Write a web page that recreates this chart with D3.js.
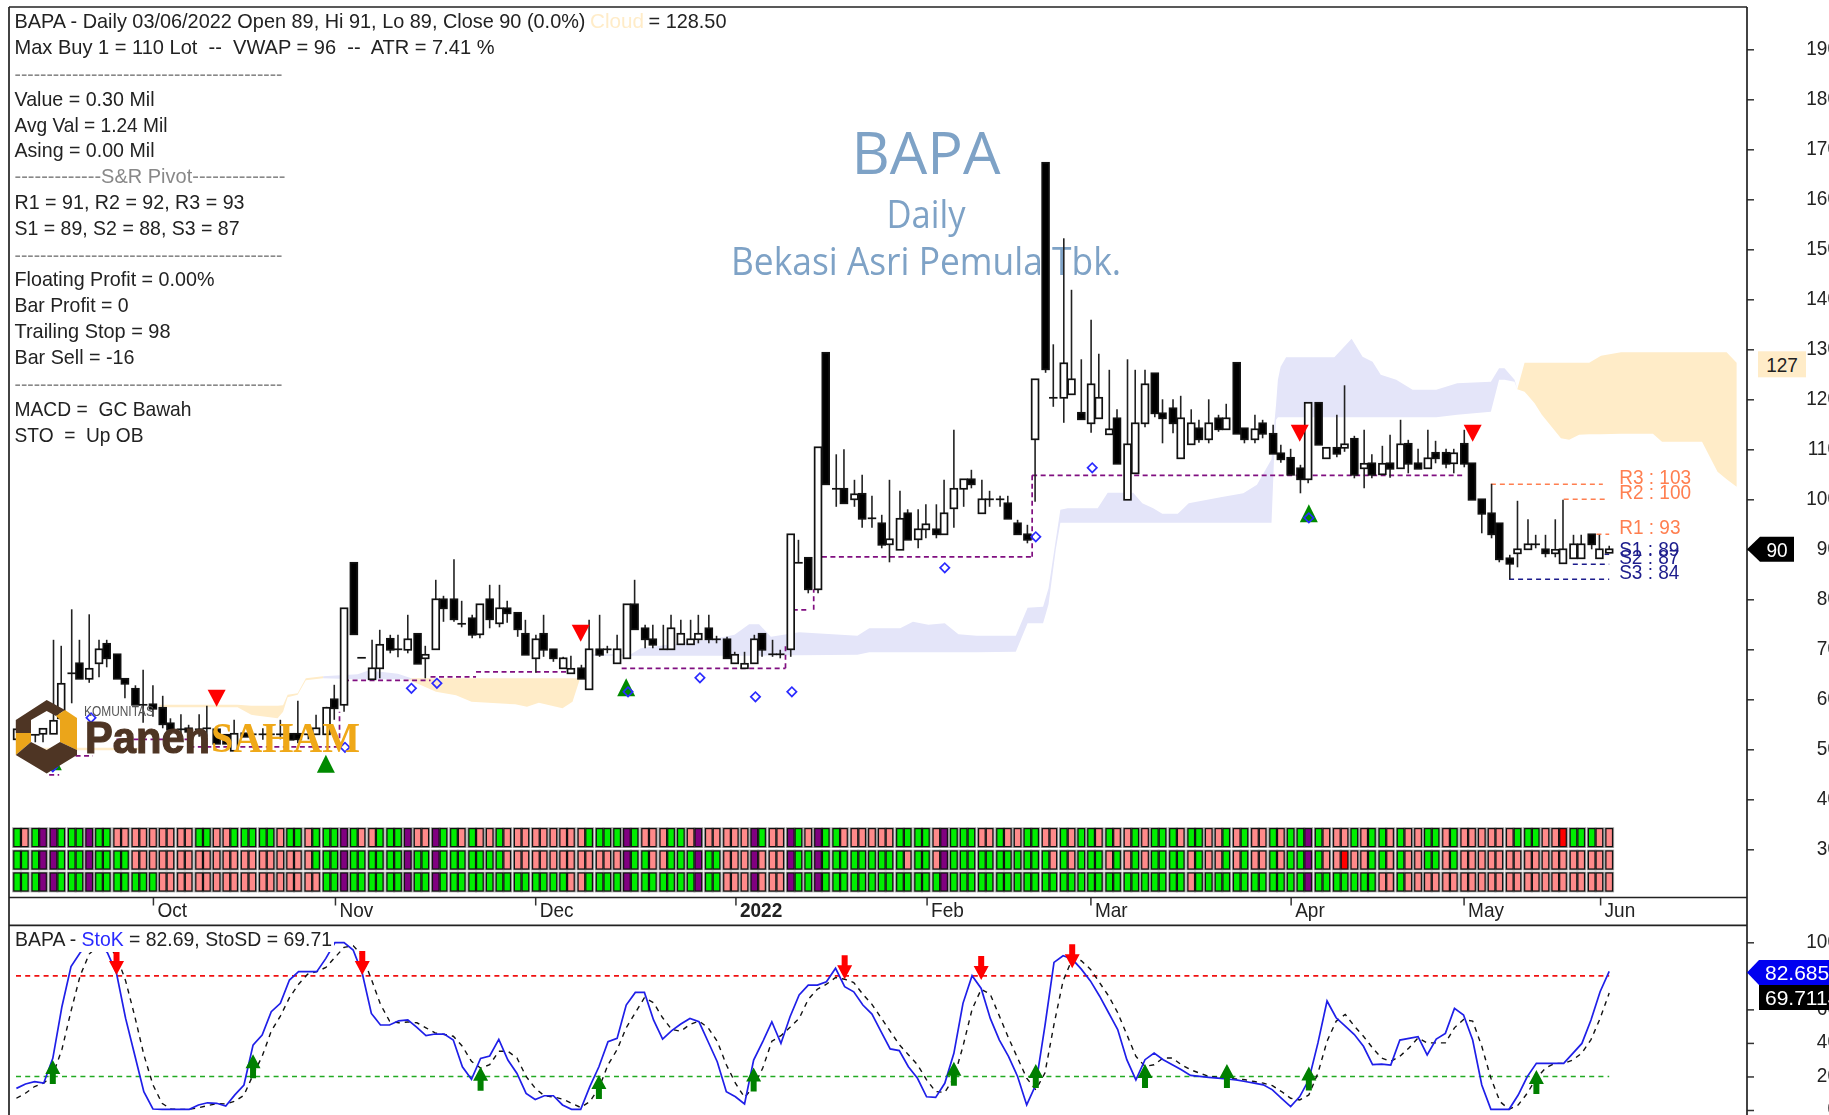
<!DOCTYPE html>
<html>
<head>
<meta charset="utf-8">
<title>BAPA - Daily</title>
<script src="https://cdn.jsdelivr.net/npm/d3@7"></script>
<style>
    html, body { margin: 0; padding: 0; background: #fff; overflow: hidden; }
    svg { display: block; filter: blur(0.35px); }
    text { font-family: "Liberation Sans", Arial, sans-serif; white-space: pre; }
</style>
</head>
<body>
<div id="chart"></div>
<script>
/*-------------------- Data -------------------*/

var barOpen = [52,53.5,52.9,53.1,53.1,56.2,65.2,67.2,64.1,67.2,71.1,69,64.1,62.1,58.9,59,58.3,55.2,54,54.2,54,54.2,54,52.9,49.7,53.2,53,53,53,53,53.1,53.1,53,53,53,60,58.9,87.3,68.3,64,66.2,72.1,70,69.9,
    73.1,68.2,70,80,80,75.1,76.2,73,80,75.2,78.2,77.3,73.1,68.2,73.1,70,66.2,65.2,66.2,62,70,70,67.2,68.2,79,74.2,72,70,70,71,71,72,74.2,72,72,67.2,66.2,67.2,73.1,69,69,70,87.3,88.3,
    82,129.3,102.1,102.1,100,101.1,96.2,95.2,91,89.9,97.2,92,94,94,93,98.2,102.1,104,97.2,100,100,99.2,95.2,93,112,167.3,120.3,120.3,121,117.3,115.2,116.2,113,116.2,99.9,105.2,115.2,125.2,117.2,118.2,108.2,111,114.2,112,
    116.2,114,127.3,114.2,112,115.2,113.1,109.2,108.3,106.2,104,119.3,108.2,110.3,110.3,112.1,106.2,107.2,105,107.2,106.2,111.1,107.2,106.2,109.3,109.3,107.2,111.1,107.2,100,97.2,95.2,88.2,89.2,90,91,90,89.2,87.2,88.2,88.2,93,88.2,89.3];
var barHigh = [54.1,54,52.9,54.1,71.9,70.7,78,71.9,77,71.9,71.9,69,64.1,62.8,65.9,62.8,60.7,56.2,57,54.9,57,58.7,54,52.9,55.9,53.2,53,54.2,53,55.9,53.1,59.7,53,56.9,58.5,62.9,78.2,87.3,68.3,71.9,73.9,72.9,72.9,76.9,
    73.1,70.7,83.9,80.7,88,79.7,76.9,79,82.9,82.9,79.7,77.3,75.9,72.9,76.9,70,68.5,68.7,66.9,75.9,76.9,70.7,72.9,79,83.9,74.9,74.9,74.9,76.9,75.9,75.9,76.9,76.9,72.7,72.5,69.5,69.5,72.9,73.1,71.9,69.9,93,91.9,88.3,
    110.4,129.3,109,110,103.9,104.9,100.7,96.9,103.9,101.7,98,98,99,99,103.9,113.9,104,105.9,103.9,101.7,100.7,100.7,95.9,94.9,124,167.3,131,152.2,141.9,128,135.9,129.1,125.9,118,128,125.9,125.9,125.2,120,120,120.7,118,115.9,120,
    116.9,119.1,127.3,114.2,116.9,115.9,114.9,110.9,110.1,106.9,119.3,119.3,110.3,116.9,122.8,112.7,113.9,109,110.7,112.9,115.9,111.9,110.1,113.9,111.7,110.1,110.1,113.9,107.2,100,103.1,95.2,88.9,99.7,96,92.9,92.9,96,99.9,92.9,92.9,93,92.9,90.7];
var barLow = [52,52,51.4,51.4,53.1,56.2,59.2,64.1,63.3,64.4,66.4,64.1,60.2,58.9,55.3,56.5,54.2,52.9,51.9,52.5,52.5,52.5,51.1,51.1,49.7,52.5,52.4,51.9,52.5,52,51.9,51.2,52,53,53,55.9,57.5,73,68.3,64,64.2,69.2,68.4,69.2,
    67.1,64.2,70,75.5,75.5,74.4,72.2,72.2,74.2,74.4,75.3,72.5,68.9,65.3,68.5,67.5,66.2,65.2,64.1,62,68.5,69.2,67.2,68.2,74,70.2,70.2,70,70,71,71,71.2,71.2,71.2,68.2,67.2,66.2,67.2,68.5,68.5,68.2,68.5,87.3,81.2,
    81.2,103,98.5,99.2,98.5,94.3,94.3,90.2,87.4,89.9,91.9,90.2,92.2,92.2,93,94.3,98.5,102.2,97.2,98.5,98.5,96.1,93,91.2,99.5,125.3,118.5,115.3,121,116,113.3,116.2,113,107.1,99.9,105.2,114.4,116.4,111.2,113.2,108.2,111,111.3,111.2,
    113.5,114,113.1,111.2,111.2,112.2,109.1,107.3,104.9,101.2,103.2,110.9,108.2,108.4,109.5,104.2,102.2,104.2,105,104.3,106.2,105.2,106.1,106.2,107.2,106.2,105.2,106.4,99.9,93.2,92.2,87.4,84,86.4,90,90.2,88.4,88.4,87.2,88.2,88.2,90,88.2,89.3];
var barClose = [54,52.5,52.9,54.1,55.7,63.1,65.2,64.1,66.1,70,68.2,64.1,63.1,58.9,58.9,58.1,55,53.9,54,53.5,54,54.2,51.1,51.1,53.1,52.5,53,53,53,53,51.9,52,53,54.2,58.3,58.2,78.2,73,68.3,66.2,70.9,69.9,70,72,
    67.1,68.9,80,78.2,76,75.1,72.9,79,76,78.2,77.2,74,68.9,72,69.9,68.2,68.2,66.1,64.1,70,68.9,70,70,79,74,72,70.9,70,74.2,73.1,72,73.1,72,72,68.2,68.9,67.1,72,69.9,69,69,93,87.3,82,
    110.4,103,102.1,99.2,101,96.1,96.2,90.9,92,96.1,91.9,94,95,93,97.2,102.1,104,103,100,100,100,96.1,93,91.9,124,126,120.3,127.2,124,116,123,120.3,114,107.1,111,115.2,123,117.2,116.2,115.2,116.2,115.2,112,115.2,
    114,116.2,113.1,112,114,113.1,109.1,108,104.9,104,119.3,110.9,110.3,109.1,111,104.9,107.1,104.9,107.1,106.1,111,107.1,106.1,108.2,108.2,107.1,109.2,107.1,99.9,97.1,93,88,87.1,90,91,91,89.2,89.9,90,91,91,91,90,90];

// StoK and StoSD, one value per bar
var stoK = [12.9,15.5,16.9,16,30.8,61.6,85.5,93.8,99.4,100,93.8,81.5,54.6,32.8,10.9,.6,.4,.4,.4,.4,3,4.3,4,2.4,9,14.9,38.7,44.7,58.6,63.6,77.5,82.5,82.5,82.5,90.4,99.8,99.8,95.4,81.5,57.6,50.7,50.7,53.2,53.7,
    49.3,44.3,45.3,45.3,41.7,25.8,18.3,30.8,32.2,42.1,29.8,21.8,9.9,6.3,8.5,8.5,3,.4,.4,13.9,25.8,40.7,42.7,62.6,70.1,70.1,53.7,42.3,47.3,51.3,54.6,52.6,40.7,28.8,10.9,7.9,3.6,29.8,40.7,52.6,39.7,55.6,68.6,74.5,
    74.5,76.5,84.5,73.5,70.5,62.6,57.2,46.7,36.4,35.4,25.8,18.9,7.9,7.5,15.9,33.8,63.6,80.1,72.5,54.6,41.7,32,20,3,15,50,88,92,90,84,77,68,58,48,30,18,30,34,30,27,24,20.6,20,19.5,
    19,18.5,18,17,16,15,12,7,2,8,18,40,65,55,50,45,38,27,27.4,26.8,41.7,42.7,43.7,32.8,42.3,45.7,60.6,56.6,41.7,14.9,.4,.4,.4,8.9,19.9,27.8,27.8,27.8,27.8,33.8,39.7,53.7,70.5,82.69];
var stoD = [7,10,14,16,21,36,59,80,93,98,98,92,77,56,33,15,4,.5,.4,.4,1.3,2.6,3.8,3.6,5.2,8.8,21,32,47,56,67,75,81,82.5,85,91,97,98,92,78,63,53,52,52.5,
    52,49,46,45,44,38,29,25,27,35,35,31,20,13,8.5,7.8,6.5,4,1.5,5,13,27,36,49,58,67,64,55,48,47,51,53,49,41,27,16,7.5,14,25,41,44.3,49.3,54.6,66,
    72,75,79,78,76,69,63,55,47,39,33,27,18,11,10.5,19,38,60,72,69,56,43,31,19,12,22,51,77,90,89,84,76,68,58,45,32,26,27,31,31,27,24,22,20,
    19.5,19,18.5,18,17,16,14.5,11,7,6,9,22,41,53,57,50,44,37,31,29,32,37,43,40,40,40,49,54,53,38,19,5,.4,3,10,19,25,27.8,27.8,29.8,34,42,54.6,69.71];

// colour strip rows: g green, p pink, v purple, r red
var stripRow1 = "gpgvvggg" + "v" + "ggpppp" + "p" + "ppppgg" + "p" + "pggggg" + "p" + "ggpggg" + "v" + "gppggg" + "v" + "ppvggpgp" + "p" + "gp" + "pppp" + "p" + "pppggg" + "g" + "vgpppg" + "g" + "pvpppp" + "p" + "vgppvg" + "p" + "vggppp" + "p" + "ppgggg" + "pv" + "g" + "gg" + "pp" + "gp" +
    "pggppgpggpgppgpgggpggppgpgppgpgg" + "vgpppgpg" + "gpgpp" + "ggpgpp" + "p" + "pppggg" + "p" + "prgggp" + "p";
var stripRow2 = "gggvvggg" + "v" + "ggggpp" + "p" + "pppppp" + "p" + "pppppp" + "p" + "pppggg" + "v" + "gggggg" + "v" + "ggvggggg" + "g" + "gp" + "pppp" + "p" + "pppppp" + "p" + "vggppg" + "g" + "gvggpp" + "p" + "vpppvg" + "g" + "vggggg" + "g" + "gggpgg" + "pv" + "g" + "gggggg" +
    "ggggpgpgggpgpgpggggpgppgpgppgpgg" + "vgpprppg" + "gpgpp" + "ggpgpp" + "p" + "pppppp" + "p" + "pppppp" + "p";
var stripRow3 = "gggvvggg" + "v" + "gggggg" + "g" + "pppppp" + "p" + "pppppp" + "p" + "ppppgg" + "v" + "gggggg" + "v" + "ggvggggg" + "g" + "gggggg" + "g" + "gppggg" + "g" + "vggggg" + "g" + "gvggpp" + "p" + "vpppvg" + "g" + "vggggg" + "g" + "gggggg" + "gv" + "g" + "gggggg" +
    "gggggggggggggggggggpgggggggggggg" + "vggggggg" + "ppgpp" + "pppppp" + "p" + "pppppp" + "p" + "pppppp" + "p";
var stripColors = {g: "#00ee00", p: "#ff8a8a", v: "#800080", r: "#ff0000"};
var singleCells = [8,15,22,29,36,43,52,59,66,73,80,87,94,103,110,117,124,131,140,147,154,161,168,175];

// Ichimoku cloud: [bar, top, bottom]
var cloudOrange = [
    [[2.7,50.3,49.8],[13.7,50.3,49.8]],
    [[15.7,58.9,58.4],[24.3,58.9,58.4],[25.8,58.7,56.9],[28.7,58.7,56.2],[29.3,58.8,57.5],[29.8,60.9,60.4],[30.9,61.2,60.9],[31.8,64.2,63.8],[33.7,64.6,64.2]],
    [[43,64.2,64],[46.1,64.2,61.5],[48.3,64.2,60.8],[50,64.2,59.5],[54.8,64.2,59],[56.1,64.2,58.5],[57.4,64.2,59.3],[60,64.2,58.2],[61.1,64.2,59.5],[61.9,64.2,64]],
    [[164.9,122,122],[165.7,127.3,121.5],[166,127.3,120.9],[166.8,127.3,119.2],[167.6,127.3,116.9],[169.7,127.3,112.2],[170.6,127.3,111.9],[171.7,127.3,112.9],[172.8,127.3,113],[174.1,128.7,113],[176.3,129.4,113.1],[179.8,129.4,113.1],[180.8,129.4,111.5],[185.2,129.4,111.5],[186.9,129.4,105.5],[187.9,129.4,104],[189,127.3,102.5]]
];
var cloudLavender = [
    [[33.7,64.6,64.2],[37.5,65,64],[38.6,65.7,64],[40,65.5,64],[41.9,65.1,64],[43.4,64.2,64]],
    [[63,69,68.7],[67.5,69,68.7],[68.6,70.2,68.7],[77,72.2,68.7],[78.9,72.9,68.7],[80.5,75,68.7],[81.6,75,68.7],[82.9,72.5,68.8],[86,73.4,68.8],[92.4,72.7,68.9],[93.7,74.2,69.4],[97.1,74.2,69.4],[98.5,75.5,69.4],[100.2,74.9,69.4],[102,75.2,69.4],[103.5,73,69.4],[105.5,72.7,69.4],[109.8,72.7,69.5],[111.1,78.3,75.2],[112.8,78.5,75.2],[113.4,82.2,79],[114.2,91.9,90],[114.7,97.9,95.3],[115.5,98.2,95.3],[118.8,98.2,95.3],[119.9,101.3,95.3],[122.7,101.3,95.3],[123.7,99.2,95.3],[124.9,98.2,95.3],[125.9,97.1,95.3],[127.6,97.1,95.3],[128.8,99.2,95.3],[132.3,100.4,95.3],[134.8,101.2,95.3],[136.3,102.9,95.3],[137.9,108,95.3],[138.2,115,109.2],[138.4,119,115.9],[138.6,123.9,116.4],[138.9,126.5,116.4],[139.5,128.4,116.4],[144.8,128.4,116.4],[146.7,132.1,116.4],[147.9,128.5,116.4],[149,127.5,116.4],[149.9,124.9,116.4],[151.6,123.9,116.4],[153.4,121.9,116.4],[156,121.9,116.4],[158.3,123.2,116.9],[162,123.5,117.5],[162.9,126.2,123.9],[163.5,126.2,123.9],[164.6,123.9,123.5],[164.9,122,122]]
];

// trailing stop: [from bar, to bar, price]
var stopSegments = [[3.6,4.7,44.9],[6.5,8.4,48.7],[11,19,52],[19,35.5,50.5],[36,45.5,63.8],[45.5,50.5,64.5],[50.5,61,65.5],[66.5,84.5,66.2],[85.3,87,77.9],[88.5,111.6,88.5],[111.6,159,104.8]];
var stopJumps = [[35.5,50.5,57.5],[84.5,66.2,71.3],[87.6,77.9,82],[111.6,88.5,104.8]];

var diamondBars = [4,8.2,36.1,43.4,46.2,67.2,75.1,81.2,85.2,102,112,118.2,142];
var diamondPrices = [46.5,56.3,50.4,62.2,63.2,61.5,64.3,60.5,61.5,86.3,92.5,106.3,96.3];
var buyBars = [4,34,67,142];
var buyPrices = [49.4,48.9,64.2,99];
var sellBars = [22,62,141,160];
var sellPrices = [58.5,71.5,111.5,111.5];

var pivotNames = ["R3","R2","R1","S1","S2","S3"];
var pivotValues = [103,100,93,89,87,84];
var pivotFrom = [162,170,173.6,174.5,171,164];
var pivotTo = [174.3,174.8,175,175,175,175];
var pivotLabelShift = [0,0,0,2,0,0];

var stoDownBars = [11,38,91,106,116];
var stoDownValues = [80.5,80.5,78,77.5,84.6];
var stoUpBars = [4,26,51,64,81,103,112,124,133,142,167];
var stoUpValues = [29.8,33.2,25.8,20.8,25.4,28.8,27.4,27.4,27.4,26,23.8];

var monthBars = [15,35,57,79,100,118,140,159,174];
var monthLabels = ["Oct","Nov","Dec","2022","Feb","Mar","Apr","May","Jun"];
var priceTicks = [30,40,50,60,70,80,90,100,110,120,130,140,150,160,170,180,190];
var stoTicks = [0,20,40,60,100];

var infoLines = [
    ["Max Buy 1 = 110 Lot  --  VWAP = 96  --  ATR = 7.41 %", 47, 480, "#222"],
    ["------------------------------------------", 74, 268, "#888"],
    ["Value = 0.30 Mil", 99, 140, "#222"],
    ["Avg Val = 1.24 Mil", 125, 153, "#222"],
    ["Asing = 0.00 Mil", 150, 140, "#222"],
    ["-------------S&R Pivot--------------", 176.5, 271, "#888"],
    ["R1 = 91, R2 = 92, R3 = 93", 202, 230, "#222"],
    ["S1 = 89, S2 = 88, S3 = 87", 228, 225, "#222"],
    ["------------------------------------------", 255, 268, "#888"],
    ["Floating Profit = 0.00%", 279.5, 200, "#222"],
    ["Bar Profit = 0", 305.5, 114, "#222"],
    ["Trailing Stop = 98", 331, 156, "#222"],
    ["Bar Sell = -16", 357, 120, "#222"],
    ["------------------------------------------", 384, 268, "#888"],
    ["MACD =  GC Bawah", 409, 177, "#222"],
    ["STO  =  Up OB", 435, 129, "#222"]
];

/*-------------------- Scales -------------------*/

var width = 1829, height = 1115;
var axisX = 1747;

var x = d3.scaleLinear().domain([0, 175]).range([16.4, 1609.2]);
var yPrice = d3.scaleLinear().domain([30, 190]).range([849.3, 49.3]);
var ySto = d3.scaleLinear().domain([0, 100]).range([1110, 942.3]);

// the cells sit in pairs, so each bar is nudged a little towards its partner
var barOffsets = [];
for (var n = 0; n < barClose.length; n++) {
    if (singleCells.indexOf(n) >= 0) {
        barOffsets[n] = 0;
    } else {
        barOffsets[n] = 0.7;
        barOffsets[n + 1] = -0.7;
        n++;
    }
}
function barX(i) {
    return x(i) + barOffsets[i];
}

// the reference text is tall and narrow, so squeeze it sideways
function condense(selection) {
    selection.each(function() {
        this.setAttribute("textLength", this.getComputedTextLength() * 0.905);
        this.setAttribute("lengthAdjust", "spacingAndGlyphs");
    });
}

var svg = d3.select("#chart").append("svg")
    .attr("width", width)
    .attr("height", height);

/*-------------------- Drawing -------------------*/

function drawTitle() {
    var titles = [["BAPA", 174, 58, 149], ["Daily", 228, 38, 79], ["Bekasi Asri Pemula Tbk.", 275, 38, 390]];
    svg.selectAll("text.title")
        .data(titles)
        .enter()
        .append("text")
        .attr("class", "title")
        .attr("x", 926)
        .attr("y", d => d[1])
        .attr("text-anchor", "middle")
        .attr("textLength", d => d[3])
        .attr("lengthAdjust", "spacingAndGlyphs")
        .style("font-family", "'Open Sans', sans-serif")
        .style("font-size", d => d[2] + "px")
        .style("fill", "#7ea2c6")
        .text(d => d[0]);
}

function drawCloud() {
    var area = d3.area()
        .x(d => x(d[0]))
        .y0(d => yPrice(d[2]))
        .y1(d => yPrice(d[1]));

    svg.selectAll("path.orange")
        .data(cloudOrange)
        .enter()
        .append("path")
        .attr("class", "orange")
        .attr("d", area)
        .style("fill", "#ffecc8");

    svg.selectAll("path.lavender")
        .data(cloudLavender)
        .enter()
        .append("path")
        .attr("class", "lavender")
        .attr("d", area)
        .style("fill", "#e4e5f9");
}

function drawStop() {
    var stop = svg.append("g")
        .style("stroke", "#800f80")
        .style("stroke-width", 1.7)
        .style("stroke-dasharray", "5 3.5");

    stop.selectAll("line.flat")
        .data(stopSegments)
        .enter()
        .append("line")
        .attr("class", "flat")
        .attr("x1", d => x(d[0]))
        .attr("x2", d => x(d[1]))
        .attr("y1", d => yPrice(d[2]))
        .attr("y2", d => yPrice(d[2]));

    stop.selectAll("line.jump")
        .data(stopJumps)
        .enter()
        .append("line")
        .attr("class", "jump")
        .attr("x1", d => x(d[0]))
        .attr("x2", d => x(d[0]))
        .attr("y1", d => yPrice(d[1]))
        .attr("y2", d => yPrice(d[2]));
}

function drawPivots() {
    var colorOf = d => d.charAt(0) == "R" ? "#ff7f50" : "#1c1c8c";

    svg.selectAll("line.pivot")
        .data(pivotNames)
        .enter()
        .append("line")
        .attr("class", "pivot")
        .attr("x1", (d, i) => x(pivotFrom[i]))
        .attr("x2", (d, i) => x(pivotTo[i]))
        .attr("y1", (d, i) => yPrice(pivotValues[i]))
        .attr("y2", (d, i) => yPrice(pivotValues[i]))
        .style("stroke", colorOf)
        .style("stroke-width", 1.5)
        .style("stroke-dasharray", "5 4");

    svg.selectAll("text.pivot")
        .data(pivotNames)
        .enter()
        .append("text")
        .attr("class", "pivot")
        .attr("x", x(175) + 10)
        .attr("y", (d, i) => yPrice(pivotValues[i]) - 0.5 + pivotLabelShift[i])
        .style("font-size", "21px")
        .style("fill", colorOf)
        .text((d, i) => d + " : " + pivotValues[i])
        .call(condense);
}

function drawCandles() {
    var candles = svg.selectAll("g.candle")
        .data(barClose)
        .enter()
        .append("g")
        .attr("class", "candle");

    candles.append("line")
        .attr("x1", (d, i) => barX(i))
        .attr("x2", (d, i) => barX(i))
        .attr("y1", (d, i) => yPrice(barHigh[i]))
        .attr("y2", (d, i) => yPrice(barLow[i]))
        .style("stroke", "#222")
        .style("stroke-width", 1.6);

    candles.append("rect")
        .attr("x", (d, i) => barX(i) - 3.4)
        .attr("width", 6.8)
        .attr("y", (d, i) => yPrice(Math.max(barOpen[i], d)))
        .attr("height", (d, i) => Math.max(0.01, Math.abs(yPrice(barOpen[i]) - yPrice(d))))
        .style("fill", (d, i) => d > barOpen[i] ? "#fff" : "#000")
        .style("stroke", "#111")
        .style("stroke-width", 1.7);
}

function drawSignals() {
    svg.selectAll("path.buy")
        .data(buyBars)
        .enter()
        .append("path")
        .attr("class", "buy")
        .attr("transform", (d, i) => "translate(" + x(d) + "," + yPrice(buyPrices[i]) + ")")
        .attr("d", "M0,0L9,18L-9,18Z")
        .style("fill", "#008a00");

    svg.selectAll("path.sell")
        .data(sellBars)
        .enter()
        .append("path")
        .attr("class", "sell")
        .attr("transform", (d, i) => "translate(" + x(d) + "," + yPrice(sellPrices[i]) + ")")
        .attr("d", "M0,0L9,-17L-9,-17Z")
        .style("fill", "#ff0000");

    svg.selectAll("rect.diamond")
        .data(diamondBars)
        .enter()
        .append("rect")
        .attr("class", "diamond")
        .attr("x", -3.3)
        .attr("y", -3.3)
        .attr("width", 6.6)
        .attr("height", 6.6)
        .attr("transform", (d, i) => "translate(" + x(d) + "," + yPrice(diamondPrices[i]) + ") rotate(45)")
        .style("fill", "none")
        .style("stroke", "#2a2aff")
        .style("stroke-width", 1.7);
}

function drawStrip() {
    var rows = [stripRow1, stripRow2, stripRow3];
    var rowTop = [828.3, 850.7, 872.7];

    rows.forEach(function(row, r) {
        // grey rim first, then the cells on top of it
        svg.selectAll("rect.rim" + r)
            .data(row.split(""))
            .enter()
            .append("rect")
            .attr("class", "rim" + r)
            .attr("x", (d, i) => barX(i) - 4.9)
            .attr("y", rowTop[r] - 1)
            .attr("width", 9.8)
            .attr("height", 20.6)
            .style("fill", "#9a9a9a");

        svg.selectAll("rect.strip" + r)
            .data(row.split(""))
            .enter()
            .append("rect")
            .attr("class", "strip" + r)
            .attr("x", (d, i) => barX(i) - 3.3)
            .attr("y", rowTop[r] + 0.3)
            .attr("width", 6.6)
            .attr("height", 18)
            .style("fill", d => stripColors[d])
            .style("stroke", "#111")
            .style("stroke-width", 1.2);
    });
}

function drawLogo() {
    var logo = svg.append("g");
    var pieces = [
        ["M15.8,720L46.7,700L65,710L56,716L46.7,711L31,720L31,733L15.8,733Z", "#4e3524"],
        ["M65,710L77,718L77,750L60,742L60,720L56,716Z", "#eba51a"],
        ["M15.8,733L31,733L31,742L15.8,755Z", "#eba51a"],
        ["M15.8,755L31,742L46.7,750L60,742L77,750L77,755L46.7,773.5Z", "#4e3524"]
    ];

    logo.selectAll("path")
        .data(pieces)
        .enter()
        .append("path")
        .attr("d", d => d[0])
        .style("fill", d => d[1]);

    logo.append("text")
        .attr("x", 84)
        .attr("y", 716)
        .attr("textLength", 70)
        .attr("lengthAdjust", "spacingAndGlyphs")
        .style("font-size", "14px")
        .style("fill", "#555")
        .text("KOMUNITAS");

    logo.append("text")
        .attr("x", 85)
        .attr("y", 753)
        .attr("textLength", 125)
        .attr("lengthAdjust", "spacingAndGlyphs")
        .style("font-size", "44px")
        .style("font-weight", "bold")
        .style("fill", "#4e3524")
        .style("stroke", "#4e3524")
        .style("stroke-width", 1.2)
        .text("Panen");

    logo.append("text")
        .attr("x", 211)
        .attr("y", 752)
        .attr("textLength", 149)
        .attr("lengthAdjust", "spacingAndGlyphs")
        .style("font-family", "'Liberation Serif', serif")
        .style("font-size", "42px")
        .style("font-weight", "bold")
        .style("fill", "#efa818")
        .text("SAHAM");
}

function drawInfo() {
    var info = svg.append("g").style("font-size", "21px");

    info.append("text").attr("x", 14.5).attr("y", 28)
        .attr("textLength", 571).attr("lengthAdjust", "spacingAndGlyphs")
        .style("fill", "#222")
        .text("BAPA - Daily 03/06/2022 Open 89, Hi 91, Lo 89, Close 90 (0.0%)");
    info.append("text").attr("x", 590).attr("y", 28)
        .attr("textLength", 54).attr("lengthAdjust", "spacingAndGlyphs")
        .style("fill", "#ffecc8")
        .text("Cloud");
    info.append("text").attr("x", 648.5).attr("y", 28)
        .attr("textLength", 78).attr("lengthAdjust", "spacingAndGlyphs")
        .style("fill", "#222")
        .text("= 128.50");

    info.selectAll("text.line")
        .data(infoLines)
        .enter()
        .append("text")
        .attr("class", "line")
        .attr("x", 14.5)
        .attr("y", d => d[1] + 6.5)
        .attr("textLength", d => d[2])
        .attr("lengthAdjust", "spacingAndGlyphs")
        .style("fill", d => d[3])
        .text(d => d[0]);
}

function drawStochastic() {
    var line = d3.line()
        .x((d, i) => x(i))
        .y(d => ySto(d));

    [[80, "#f01010"], [20, "#22aa22"]].forEach(function(level) {
        svg.append("line")
            .attr("x1", 16)
            .attr("x2", x(175))
            .attr("y1", ySto(level[0]))
            .attr("y2", ySto(level[0]))
            .style("stroke", level[1])
            .style("stroke-width", 1.6)
            .style("stroke-dasharray", "5 4.2");
    });

    svg.append("path")
        .datum(stoD)
        .attr("d", line)
        .style("fill", "none")
        .style("stroke", "#111")
        .style("stroke-width", 1.4)
        .style("stroke-dasharray", "5 5");

    svg.append("path")
        .datum(stoK)
        .attr("d", line)
        .style("fill", "none")
        .style("stroke", "#1f1fe8")
        .style("stroke-width", 1.7);

    svg.selectAll("path.stoDown")
        .data(stoDownBars)
        .enter()
        .append("path")
        .attr("class", "stoDown")
        .attr("transform", (d, i) => "translate(" + x(d) + "," + ySto(stoDownValues[i]) + ")")
        .attr("d", "M0,0L7.5,-14L3,-14L3,-24L-3,-24L-3,-14L-7.5,-14Z")
        .style("fill", "#ff0000");

    svg.selectAll("path.stoUp")
        .data(stoUpBars)
        .enter()
        .append("path")
        .attr("class", "stoUp")
        .attr("transform", (d, i) => "translate(" + x(d) + "," + ySto(stoUpValues[i]) + ")")
        .attr("d", "M0,0L7.5,14L3,14L3,24L-3,24L-3,14L-7.5,14Z")
        .style("fill", "#008000");

    // the legend hides the lines behind it
    svg.append("rect")
        .attr("x", 11)
        .attr("y", 928)
        .attr("width", 323)
        .attr("height", 24)
        .style("fill", "#fff");

    var legend = svg.append("text")
        .attr("x", 15)
        .attr("y", 946)
        .attr("textLength", 317)
        .attr("lengthAdjust", "spacingAndGlyphs")
        .style("font-size", "21px")
        .style("fill", "#222");
    legend.append("tspan").text("BAPA - ");
    legend.append("tspan").style("fill", "#2a2aff").text("StoK");
    legend.append("tspan").text(" = 82.69, StoSD = 69.71");
}

function drawFrame() {
    var frame = [[9, 7, axisX, 7], [9, 7, 9, height], [axisX, 7, axisX, height], [9, 897.5, axisX, 897.5], [9, 925.3, axisX, 925.3]];
    svg.selectAll("line.frame")
        .data(frame)
        .enter()
        .append("line")
        .attr("class", "frame")
        .attr("x1", d => d[0])
        .attr("y1", d => d[1])
        .attr("x2", d => d[2])
        .attr("y2", d => d[3])
        .style("stroke", "#222")
        .style("stroke-width", 1.7);
}

function styleAxis(g) {
    g.select(".domain").remove();
    g.selectAll(".tick line").style("stroke", "#333").style("stroke-width", 1.5);
    g.selectAll("text").style("font-family", "'Liberation Sans', Arial, sans-serif").style("font-size", "21px").style("fill", "#222");
}

function drawAxes() {
    var priceAxis = svg.append("g")
        .attr("transform", "translate(" + axisX + ",0)")
        .call(d3.axisRight(yPrice).tickValues(priceTicks).tickSize(7).tickFormat(d3.format("d")))
        .call(styleAxis);
    priceAxis.selectAll("text").attr("x", 91).attr("y", -2).attr("text-anchor", "end").call(condense);

    var stoAxis = svg.append("g")
        .attr("transform", "translate(" + axisX + ",0)")
        .call(d3.axisRight(ySto).tickValues(stoTicks).tickSize(7).tickFormat(d3.format("d")))
        .call(styleAxis);
    stoAxis.selectAll("text").attr("x", 91).attr("y", -2).attr("text-anchor", "end").call(condense);

    var monthAxis = svg.append("g")
        .attr("transform", "translate(0,897.5)")
        .call(d3.axisBottom(x).tickValues(monthBars).tickSize(8).tickFormat((d, i) => monthLabels[i]))
        .call(styleAxis);
    monthAxis.selectAll("text")
        .attr("x", 4)
        .attr("y", 5)
        .attr("text-anchor", "start")
        .attr("dy", "0.71em")
        .style("font-weight", d => d == 79 ? "bold" : "normal")
        .call(condense);
}

function drawTags() {
    // tags on the right hand axis
    svg.append("rect")
        .attr("x", 1758).attr("width", 48)
        .attr("y", yPrice(127) - 13).attr("height", 26)
        .style("fill", "#ffecc8");
    svg.append("text")
        .attr("x", 1782).attr("y", yPrice(127) + 7.5)
        .attr("text-anchor", "middle")
        .style("font-size", "21px").style("fill", "#222")
        .text("127")
        .call(condense);

    var tagY = yPrice(90);
    svg.append("path")
        .attr("transform", "translate(" + axisX + "," + tagY + ")")
        .attr("d", "M0,0L13,-12.5L47,-12.5L47,12.5L13,12.5Z")
        .style("fill", "#000");
    svg.append("text")
        .attr("x", 1777).attr("y", tagY + 7.5)
        .attr("text-anchor", "middle")
        .style("font-size", "21px").style("fill", "#fff")
        .text("90")
        .call(condense);

    var kY = 972.5;
    svg.append("path")
        .attr("transform", "translate(" + axisX + "," + kY + ")")
        .attr("d", "M0,0L12,-12.5L90,-12.5L90,12.5L12,12.5Z")
        .style("fill", "#0000f0");
    svg.append("text")
        .attr("x", 1765).attr("y", kY + 7.5)
        .style("font-size", "21px").style("fill", "#fff")
        .text("82.6859");

    svg.append("rect")
        .attr("x", 1759).attr("width", 80)
        .attr("y", 985).attr("height", 25)
        .style("fill", "#000");
    svg.append("text")
        .attr("x", 1765).attr("y", 1005)
        .style("font-size", "21px").style("fill", "#fff")
        .text("69.7114");
}

drawTitle();
drawCloud();
drawStop();
drawPivots();
drawCandles();
drawSignals();
drawStrip();
drawLogo();
drawInfo();
drawStochastic();
drawAxes();
drawFrame();
drawTags();
</script>
</body>
</html>
